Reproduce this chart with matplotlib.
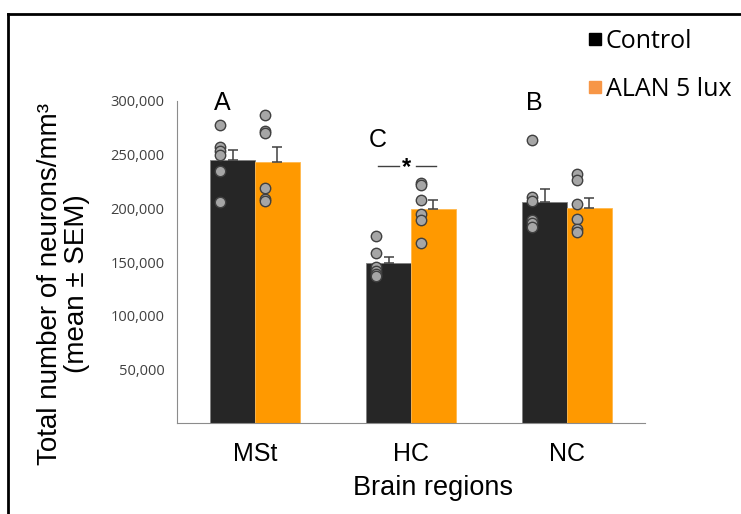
import matplotlib
matplotlib.use("Agg")
import matplotlib.pyplot as plt
from matplotlib.lines import Line2D
import numpy as np

regions = ["MSt", "HC", "NC"]
series = ["Control", "ALAN 5 lux"]
control_mean = [245000, 149000, 206000]
control_sem = [9500, 6000, 12000]
alan_mean = [243000, 199500, 200500]
alan_sem = [14000, 8500, 9000]
control_points = [
    [278000, 257000, 253000, 250000, 235000, 206000],
    [174000, 158000, 145000, 142000, 139000, 137000],
    [264000, 211000, 207000, 189000, 186000, 183000],
]
alan_points = [
    [287000, 272000, 270000, 219000, 209000, 207000],
    [224000, 222000, 208000, 195000, 189000, 168000],
    [232000, 226000, 204000, 190000, 181000, 178000],
]
group_letters = ["A", "C", "B"]
yticks = [50000, 100000, 150000, 200000, 250000, 300000]

c_ctrl = "#262626"
c_alan = "#FF9900"

fig = plt.figure(figsize=(7.41, 5.14), dpi=100)
ax = fig.add_axes([177/741, 1-423/514, (645-177)/741, 322/514])

x = np.arange(len(regions))
w = 0.2875
ax.bar(x - w/2, control_mean, w, color=c_ctrl, edgecolor="#7f7f7f", linewidth=0.6, zorder=2)
ax.bar(x + w/2, alan_mean, w, color=c_alan, edgecolor="#FFB84D", linewidth=0.6, zorder=2)
ax.errorbar(x - w/2, control_mean, yerr=[np.zeros(3), control_sem], fmt="none",
            ecolor="#404040", elinewidth=1.1, capsize=3.5, capthick=1.1, zorder=3)
ax.errorbar(x + w/2, alan_mean, yerr=[np.zeros(3), alan_sem], fmt="none",
            ecolor="#404040", elinewidth=1.1, capsize=3.5, capthick=1.1, zorder=3)

for i in range(len(regions)):
    ax.plot(np.full(len(control_points[i]), x[i] - w/2 - 0.08), control_points[i], "o",
            ms=7.5, mfc="#A6A6A6", mec="#404040", mew=1.0, zorder=4, linestyle="none")
    ax.plot(np.full(len(alan_points[i]), x[i] + w/2 - 0.08), alan_points[i], "o",
            ms=7.5, mfc="#A6A6A6", mec="#404040", mew=1.0, zorder=4, linestyle="none")

letter_y = [298000, 263700, 298000]
for i, L in enumerate(group_letters):
    ax.text(x[i] - 0.21, letter_y[i], L, ha="center", va="center", fontsize=18,
            family="Liberation Sans", color="black")

# significance
ax.plot([1 - 0.21, 1 - 0.077], [239500, 239500], color="#404040", lw=1.0, clip_on=False)
ax.plot([1 + 0.032, 1 + 0.16], [239500, 239500], color="#404040", lw=1.0, clip_on=False)
ax.text(1 - 0.03, 238000, "*", ha="center", va="center", fontsize=17, fontweight="bold",
        family="Liberation Sans")

ax.set_xlim(-0.5, 2.5)
ax.set_ylim(0, 300000)
ax.set_yticks(yticks)
ax.set_yticklabels([f"{v:,}" for v in yticks], family="Open Sans", fontsize=10.5, color="#404040")
ax.set_xticks(x)
ax.set_xticklabels(regions, family="Liberation Sans", fontsize=18)
ax.tick_params(axis="both", length=0)
ax.tick_params(axis="y", pad=9)
ax.tick_params(axis="x", pad=14)
for s in ["top", "right"]:
    ax.spines[s].set_visible(False)
ax.spines["left"].set_color("#8c8c8c")
ax.spines["bottom"].set_color("#8c8c8c")
ax.set_xlabel("Brain regions", family="Liberation Sans", fontsize=19.5)
ax.xaxis.set_label_coords((433-177)/468, -(488-423)/322)
ax.xaxis.label.set_va("center")

fig.text(64/741, 1-284/514, "Total number of neurons/mm³\n(mean ± SEM)", rotation=90,
         ha="center", va="center", family="Liberation Sans", fontsize=20, linespacing=1.05,
         multialignment="center")

handles = [Line2D([], [], marker="s", linestyle="none", color="black", ms=9),
           Line2D([], [], marker="s", linestyle="none", color="#F79646", ms=9)]
fig.legend(handles, series, loc="upper left", bbox_to_anchor=(577/741, 1-19/514),
           frameon=False, prop={"family": "Open Sans", "size": 18},
           handlelength=0.6, handletextpad=0.15, labelspacing=0.9, borderaxespad=0)

# outer frame (top and left)
fig.add_artist(Line2D([8/741, 1.0], [1-14/514, 1-14/514], color="black", lw=2,
                      transform=fig.transFigure))
fig.add_artist(Line2D([8/741, 8/741], [0, 1-14/514], color="black", lw=2,
                      transform=fig.transFigure))

fig.savefig("out.png", dpi=100)
